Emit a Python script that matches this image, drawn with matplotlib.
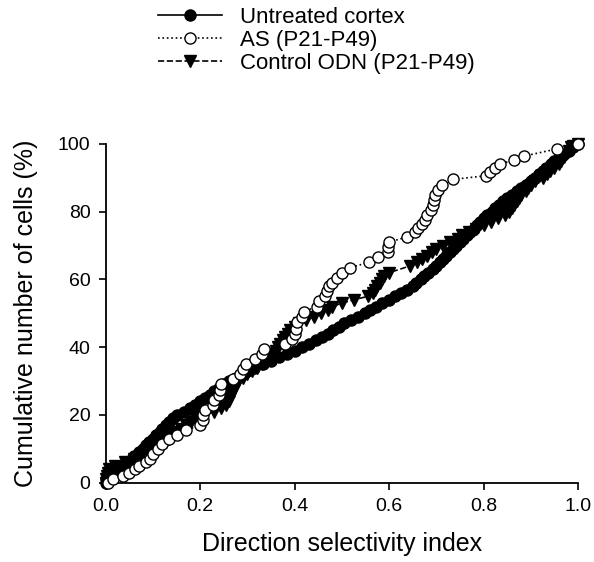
import numpy as np
import matplotlib
matplotlib.use("Agg")
import matplotlib.pyplot as plt

plt.rcParams['font.family'] = ['Liberation Sans', 'DejaVu Sans']

# Untreated cortex: direction selectivity index vs cumulative % of cells
untreated_x = [0.0, 0.0, 0.005, 0.015, 0.025, 0.035, 0.045, 0.055, 0.06, 0.07, 0.078,
               0.085, 0.092, 0.1, 0.107, 0.115, 0.12, 0.128, 0.135, 0.142, 0.15,
               0.165, 0.178, 0.19, 0.2, 0.21, 0.22, 0.23, 0.24, 0.25, 0.262,
               0.275, 0.288, 0.3, 0.315, 0.332, 0.35, 0.367, 0.383, 0.4, 0.415,
               0.43, 0.445, 0.458, 0.47, 0.482, 0.494, 0.505, 0.52, 0.535, 0.55,
               0.56, 0.572, 0.585, 0.6, 0.612, 0.625, 0.637, 0.65, 0.658, 0.667,
               0.675, 0.683, 0.692, 0.7, 0.707, 0.714, 0.721, 0.728, 0.735, 0.742,
               0.75, 0.757, 0.764, 0.772, 0.779, 0.786, 0.793, 0.8, 0.808, 0.817,
               0.825, 0.833, 0.842, 0.85, 0.86, 0.87, 0.88, 0.89, 0.9, 0.908,
               0.917, 0.925, 0.933, 0.942, 0.95, 0.96, 0.97, 0.98, 0.99, 1.0]
untreated_y = [0, 1, 2, 3, 4, 5, 6, 7, 8, 9, 10,
               11, 12, 13, 14, 15, 16, 17, 18, 19, 20,
               21, 22, 23, 24, 25, 26, 27, 28, 29, 30,
               31, 32, 33, 34, 35, 36, 37, 38, 39, 40,
               41, 42, 43, 44, 45, 46, 47, 48, 49, 50,
               51, 52, 53, 54, 55, 56, 57, 58, 59, 60,
               61, 62, 63, 64, 65, 66, 67, 68, 69, 70,
               71, 72, 73, 74, 75, 76, 77, 78, 79, 80,
               81, 82, 83, 84, 85, 86, 87, 88, 89, 90,
               91, 92, 93, 94, 95, 96, 97, 98, 99, 100]

# AS (P21-P49)
as_x = [0.005, 0.015, 0.036, 0.05, 0.061, 0.07, 0.085, 0.093, 0.1, 0.11,
        0.12, 0.135, 0.15, 0.17, 0.2, 0.205, 0.207, 0.21, 0.227, 0.23,
        0.24, 0.242, 0.245, 0.27, 0.284, 0.29, 0.298, 0.316, 0.33, 0.335,
        0.38, 0.395, 0.4, 0.402, 0.405, 0.415, 0.42, 0.447, 0.452, 0.465,
        0.468, 0.472, 0.48, 0.489, 0.5, 0.517, 0.557, 0.577, 0.597, 0.598,
        0.6, 0.637, 0.655, 0.661, 0.67, 0.676, 0.68, 0.688, 0.692, 0.695,
        0.698, 0.704, 0.712, 0.735, 0.805, 0.814, 0.824, 0.835, 0.864, 0.886,
        0.955, 1.0]
as_y = [0, 1, 2, 3, 4, 5, 6, 7, 8.5, 10,
        11.5, 13, 14, 15.5, 17, 18.5, 20, 21.5, 23, 24.5,
        26, 27.5, 29, 30.5, 32, 33.5, 35, 36.5, 38, 39.5,
        41, 42.5, 44, 45.5, 47.5, 49, 50.5, 52, 53.5, 55,
        56.5, 58, 59, 60.5, 62, 63.5, 65, 66.5, 68, 69.5,
        71, 72.5, 74, 75.2, 76.4, 77.6, 79, 80.5, 82, 83.5,
        85, 86.5, 88, 89.5, 90.6, 91.8, 93, 94, 95.3, 96.4,
        98.5, 100]

# Control ODN (P21-P49)
ctrl_x = [0.0, 0.0, 0.002, 0.004, 0.006, 0.02, 0.04, 0.06, 0.075, 0.09,
          0.1, 0.115, 0.128, 0.135, 0.14, 0.15, 0.16, 0.17, 0.18, 0.19,
          0.2, 0.23, 0.245, 0.255, 0.26, 0.263, 0.266, 0.27, 0.273, 0.276,
          0.28, 0.29, 0.3, 0.31, 0.32, 0.33, 0.34, 0.345, 0.35, 0.36,
          0.365, 0.37, 0.375, 0.38, 0.385, 0.39, 0.4, 0.41, 0.425, 0.44,
          0.455, 0.47, 0.48, 0.5, 0.525, 0.555, 0.565, 0.57, 0.575, 0.58,
          0.585, 0.59, 0.6, 0.645, 0.66, 0.67, 0.68, 0.69, 0.7, 0.715,
          0.73, 0.745, 0.755, 0.77, 0.785, 0.8, 0.815, 0.83, 0.845, 0.855,
          0.86, 0.865, 0.87, 0.875, 0.88, 0.89, 0.895, 0.9, 0.91, 0.925,
          0.935, 0.94, 0.95, 0.96, 0.965, 0.97, 0.975, 0.98, 0.985, 0.99, 1.0]
ctrl_y = [0, 1, 2, 3, 4, 5, 6, 7, 8, 9,
          10, 11, 12, 13, 14, 15, 16, 17, 18, 19,
          20, 21, 22, 23, 24, 25, 26, 27, 28, 29,
          30, 31, 32, 33, 34, 35, 36, 37, 38, 39,
          40, 41, 42, 43, 44, 45, 46, 47, 48, 49,
          50, 51, 52, 53, 54, 55, 56, 57, 58, 59,
          60, 61, 62, 64, 65, 66, 67, 68, 69, 70,
          71, 72, 73, 74, 75, 76, 77, 78, 79, 80,
          81, 82, 83, 84, 85, 86, 87, 88, 89, 90,
          91, 92, 93, 94, 95, 96, 97, 98, 99, 99.5, 100]

x_ticks = [0.0, 0.2, 0.4, 0.6, 0.8, 1.0]
y_ticks = [0, 20, 40, 60, 80, 100]

fig = plt.figure(figsize=(5.94, 5.62), dpi=100)
ax = fig.add_axes([0.178, 0.141, 0.795, 0.603])

l1, = ax.plot(untreated_x, untreated_y, '-', color='black', lw=1.2,
              marker='o', ms=8, mfc='black', mec='black', clip_on=False,
              label='Untreated cortex', zorder=3)
l3, = ax.plot(ctrl_x, ctrl_y, '--', color='black', lw=1.2,
              marker='v', ms=8.5, mfc='black', mec='black', clip_on=False,
              label='Control ODN (P21-P49)', zorder=4)
l2, = ax.plot(as_x, as_y, ':', color='black', lw=1.2,
              marker='o', ms=8, mfc='white', mec='black', mew=1.0, clip_on=False,
              label='AS (P21-P49)', zorder=5)

ax.set_xlim(0, 1)
ax.set_ylim(0, 100)
ax.set_xticks(x_ticks)
ax.set_yticks(y_ticks)
ax.set_xticklabels(['%.1f' % t for t in x_ticks])
ax.set_yticklabels([str(t) for t in y_ticks])
ax.tick_params(direction='out', length=5, width=1.2, labelsize=14, pad=6)
ax.spines['top'].set_visible(False)
ax.spines['right'].set_visible(False)
ax.spines['left'].set_linewidth(1.3)
ax.spines['bottom'].set_linewidth(1.3)

ax.set_xlabel('Direction selectivity index', fontsize=18, labelpad=12)
ax.set_ylabel('Cumulative number of cells (%)', fontsize=18, labelpad=14)

fig.legend(handles=[l1, l2, l3], loc='upper left', bbox_to_anchor=(0.266, 0.988),
           frameon=False, fontsize=16, numpoints=1, handlelength=2.9,
           handletextpad=0.8, labelspacing=0.1, borderpad=0, borderaxespad=0)

fig.savefig('out.png', dpi=100)
